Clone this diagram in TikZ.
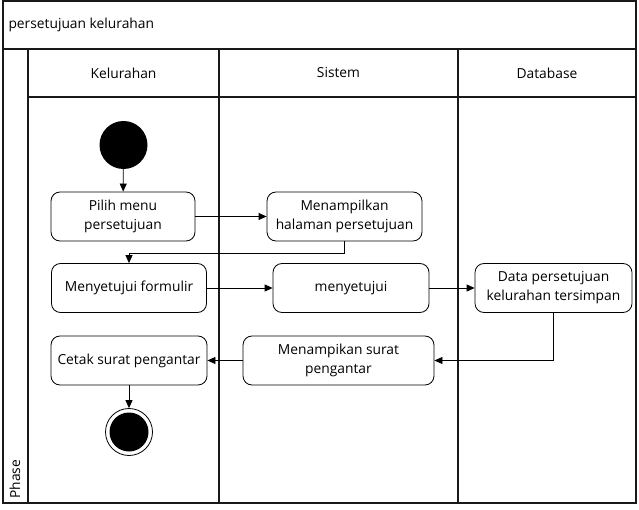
\documentclass[tikz,border=0pt]{standalone}
\usepackage{fontspec}
\setmainfont{Open Sans}
\usetikzlibrary{arrows.meta}
\begin{document}
\begin{tikzpicture}[x=1pt,y=-1pt,
  lane/.style={line width=1.3pt, draw=black!90},
  act/.style={draw, rounded corners=9pt, align=center, minimum height=49pt, inner sep=2pt, font=\fontsize{13.8}{19}\selectfont, line width=0.8pt},
  lbl/.style={font=\fontsize{13.8}{19}\selectfont},
  arr/.style={-{Triangle[width=7pt,length=8pt]}, line width=0.8pt}]
\useasboundingbox (0,0) rectangle (639,510);
% frame and lanes
\draw[lane] (3,1) rectangle (636,503);
\draw[lane] (3,49) -- (636,49);
\draw[lane] (28,49) -- (28,503);
\draw[lane] (219,49) -- (219,503);
\draw[lane] (458,49) -- (458,503);
\draw[lane] (28,97) -- (636,97);
\node[lbl, anchor=west] (title) at (5,25) {persetujuan kelurahan};
\node[lbl] (h1) at (123.5,73) {Kelurahan};
\node[lbl] (h2) at (338.5,73) {Sistem};
\node[lbl] (h3) at (547,73) {Database};
\node[lbl, anchor=west, rotate=90] (phase) at (15,502) {Phase};
% nodes
\node[circle, fill=black, minimum size=48pt, inner sep=0pt] (s) at (123.5,145) {};
\node[act, minimum width=144pt] (p) at (123,216.5) {Pilih menu\\persetujuan};
\node[act, minimum width=155pt] (m1) at (344.5,216.5) {Menampilkan\\halaman persetujuan};
\node[act, minimum width=155pt] (f) at (129,288) {Menyetujui formulir};
\node[act, minimum width=156pt] (m2) at (351,288) {menyetujui};
\node[act, minimum width=157pt] (d) at (553.5,288) {Data persetujuan\\kelurahan tersimpan};
\node[act, minimum width=191pt] (ms) at (338.5,360.5) {Menampikan surat\\pengantar};
\node[act, minimum width=156pt] (c) at (129,360.5) {Cetak surat pengantar};
\node[circle, draw, line width=0.8pt, minimum size=47pt, inner sep=0pt] (e) at (129,432) {};
\fill (e.center) circle (19.5);
% connectors
\draw[arr] (s) -- (p);
\draw[arr] (p) -- (m1);
\draw[arr] (m1.south) -- ++(0,12) -| (f.north);
\draw[arr] (f) -- (m2);
\draw[arr] (m2) -- (d);
\draw[arr] (d.south) |- (ms.east);
\draw[arr] (ms) -- (c);
\draw[arr] (c) -- (e);
\end{tikzpicture}
\end{document}
